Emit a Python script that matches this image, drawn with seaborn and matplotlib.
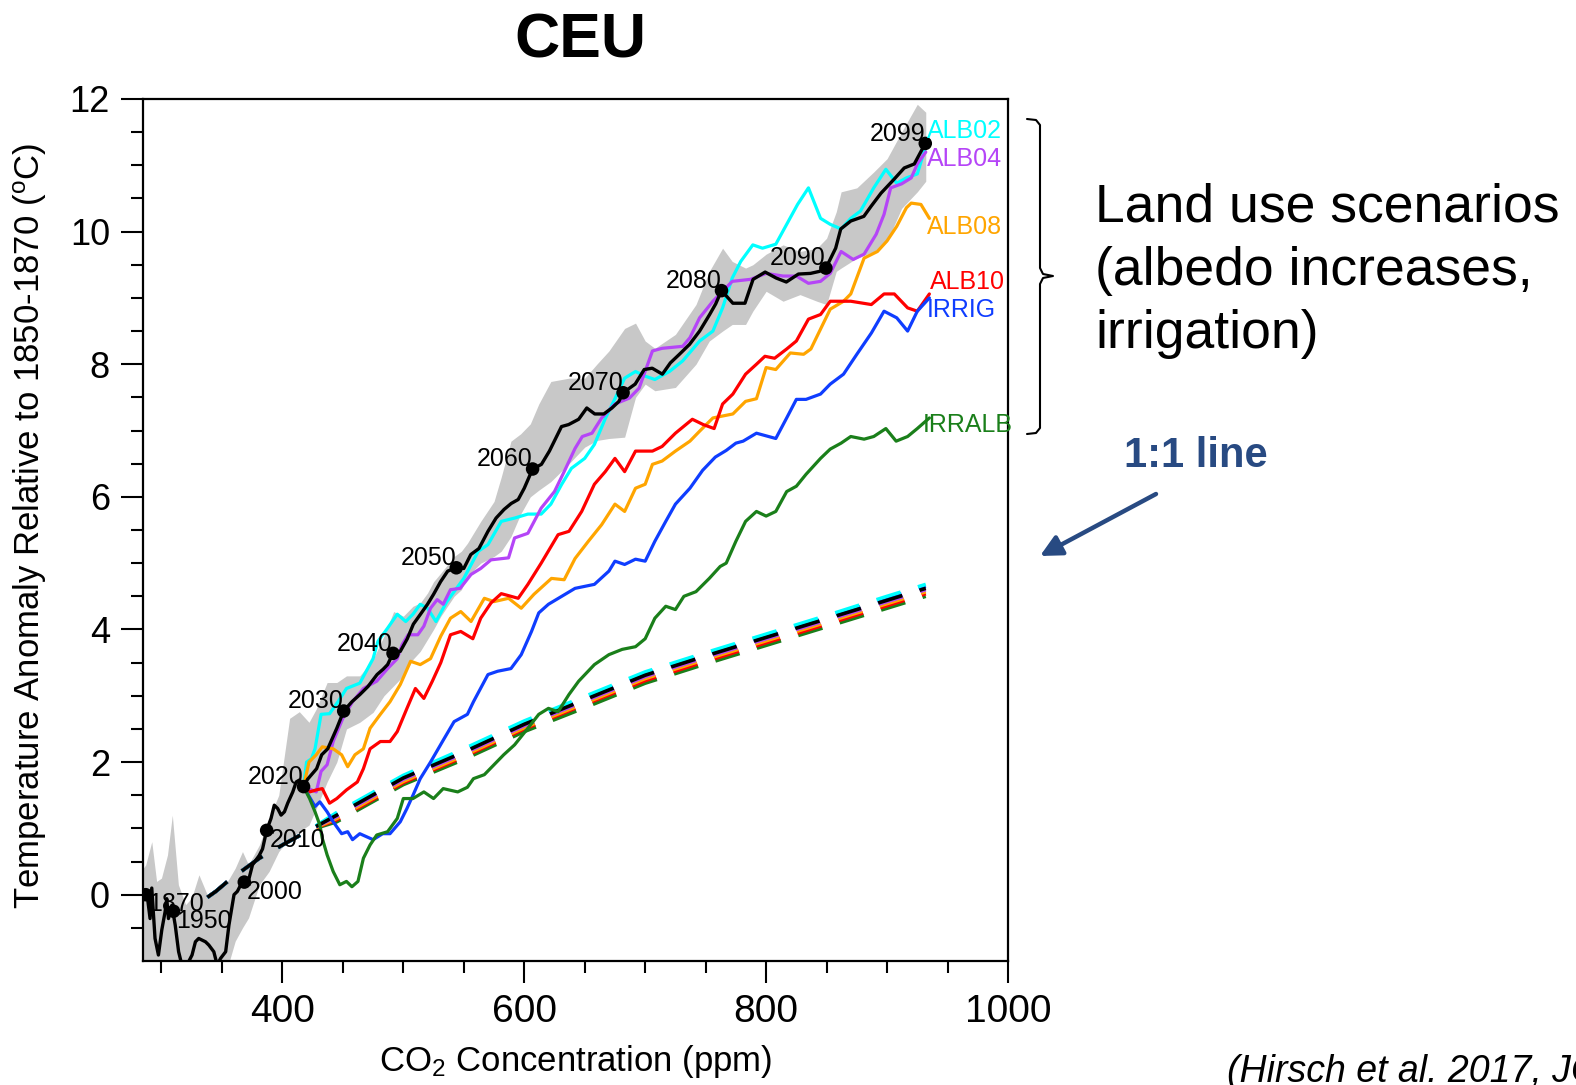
import matplotlib
matplotlib.use("Agg")
import matplotlib.pyplot as plt
import seaborn as sns
from matplotlib.lines import Line2D

# historical run (black) and its spread
hist_co2 = [285.5, 287.8, 290.6, 292, 294.7, 297.5, 300.3, 303, 304.4, 305.8, 308.6, 311.4,
            314.2, 316.9, 321.1, 325.3, 328.1, 330.8, 336.4, 339.2, 343.3, 346.1, 348.9,
            353.1, 355.8, 360, 362.8, 365.6, 368.3, 371.1, 373.9, 375.3, 380.8, 383.6,
            387, 390.6, 393.3, 396.1, 398.9, 401.7, 404.4, 408.6, 411.4, 414.2, 417.5]
hist_temp = [-0.06, 0.05, -0.36, 0.10, -0.66, -0.91, -0.53, -0.26, -0.06, -0.36, -0.16, -0.46,
             -0.86, -1.06, -1.06, -0.91, -0.71, -0.66, -0.71, -0.76, -0.86, -1.06, -0.96,
             -0.86, -0.46, 0.0, 0.05, 0.15, 0.19, 0.15, 0.35, 0.45, 0.59, 0.69,
             0.97, 1.15, 1.35, 1.30, 1.20, 1.25, 1.38, 1.55, 1.70, 1.73, 1.63]

ctl_co2 = [417.5, 420.8, 428.3, 432.5, 437.5, 445, 450.7, 457.5, 464.2, 470.8, 478.3, 483.3,
           487, 491.5, 497.5, 503.3, 508.3, 514.2, 520, 525, 530.8, 536.7, 543.8, 550,
           555.8, 562.5, 570, 576.7, 583.3, 589.2, 595, 600, 606.9, 614.2, 620.8, 630.8,
           636.7, 645, 651.7, 658.3, 665.8, 672.5, 678.3, 681.7, 691.7, 699.2, 705.8, 714.2,
           720.8, 728.3, 736.7, 745, 753.3, 758.3, 763.1, 772.5, 782.5, 789.2, 799.2, 808.3,
           816.7, 826.7, 836.7, 844, 849.4, 857.5, 861.7, 870, 880.8, 886.7, 895, 905.8,
           914.2, 922.5, 931.6]
ctl_temp = [1.63, 1.74, 1.90, 2.11, 2.20, 2.51, 2.77, 2.91, 3.02, 3.14, 3.32, 3.40,
            3.47, 3.64, 3.67, 3.86, 4.08, 4.23, 4.38, 4.53, 4.72, 4.88, 4.93, 4.92,
            5.13, 5.22, 5.48, 5.68, 5.81, 5.90, 5.96, 6.13, 6.42, 6.49, 6.69, 7.06,
            7.09, 7.17, 7.34, 7.25, 7.25, 7.34, 7.44, 7.57, 7.70, 7.92, 7.94, 7.85,
            8.02, 8.15, 8.30, 8.50, 8.75, 8.91, 9.11, 8.92, 8.92, 9.28, 9.39, 9.30,
            9.24, 9.36, 9.37, 9.40, 9.45, 9.75, 10.04, 10.16, 10.23, 10.38, 10.58, 10.79,
            10.96, 11.02, 11.33]

band_co2 = [285, 287, 292, 296, 300, 305, 309, 314, 320, 325, 331, 339, 347, 353, 361, 367,
            372, 381, 389, 397, 406, 414, 422, 428, 437, 445, 453, 464, 475, 484, 492, 500,
            508, 514, 520, 525, 531, 542, 548, 553, 564, 575, 581, 589, 597, 605, 612, 622,
            637, 650, 660, 670, 683, 692, 700, 708, 725, 742, 753, 764, 772, 783, 789, 800,
            814, 828, 842, 850, 858, 862, 875, 889, 900, 912, 925, 932]
band_hi = [0.4, 0.45, 0.8, 0.2, 0.25, 0.6, 1.2, 0.15, -0.15, -0.05, 0.3, -0.05, 0.1, 0.15, 0.4, 0.65,
           0.45, 0.75, 1.15, 1.5, 2.66, 2.76, 2.6, 2.8, 3.2, 3.2, 3.3, 3.3, 3.55, 3.9, 4.27, 4.2,
           4.35, 4.4, 4.55, 4.72, 4.85, 5.1, 5.18, 5.3, 5.63, 5.93, 6.3, 6.84, 6.95, 7.1, 7.4, 7.74,
           7.79, 7.79, 8.0, 8.2, 8.54, 8.62, 8.35, 8.24, 8.45, 8.9, 9.4, 9.75, 9.55, 9.45, 9.5, 9.66,
           9.8, 9.7, 9.75, 9.9, 10.3, 10.6, 10.66, 10.9, 11.1, 11.5, 11.92, 11.8]
band_lo = [-1.3, -1.3, -1.3, -1.3, -1.3, -1.3, -1.3, -1.3, -1.3, -1.3, -1.3, -1.3, -1.3, -1.2, -0.7, -0.5,
           -0.35, 0.15, 0.35, 0.65, 0.85, 0.95, 1.05, 1.3, 1.7, 2.0, 2.5, 2.6, 2.75, 3.0, 3.15, 3.3,
           3.55, 3.67, 3.85, 4.0, 4.2, 4.5, 4.6, 4.8, 5.0, 5.1, 5.18, 5.4, 5.74, 6.0, 6.1, 6.23,
           6.5, 6.75, 6.85, 6.88, 6.9, 7.5, 7.7, 7.6, 7.65, 8.0, 8.35, 8.5, 8.6, 8.6, 8.8, 9.1,
           8.95, 9.05, 8.95, 8.9, 9.4, 9.45, 9.6, 9.7, 9.85, 10.35, 10.6, 10.76]

# scenarios
alb02_co2 = [417.5, 420, 424, 427, 432, 439, 446, 453, 464, 475, 479, 487, 495, 502, 508, 514, 520,
             527, 536, 550, 562, 570, 581, 592, 603, 614, 622, 631, 639, 650, 658, 667, 675, 683,
             692, 700, 708, 720, 731, 745, 756, 764, 772, 779, 789, 797, 808, 817, 826, 835, 845,
             853, 862, 870, 878, 889, 899, 908, 916, 925, 929, 932]
alb02 = [1.63, 2.0, 2.05, 2.2, 2.72, 2.73, 2.91, 3.11, 3.19, 3.56, 3.82, 4.02, 4.23, 4.12, 4.23, 4.38,
         4.32, 4.12, 4.42, 4.77, 5.18, 5.28, 5.63, 5.68, 5.74, 5.74, 5.89, 6.19, 6.43, 6.58, 6.79, 7.18,
         7.48, 7.79, 7.89, 7.82, 7.77, 7.89, 8.05, 8.35, 8.5, 8.85, 9.3, 9.55, 9.8, 9.75, 9.81, 10.11,
         10.41, 10.66, 10.2, 10.11, 10.04, 10.2, 10.31, 10.66, 10.94, 10.73, 10.81, 10.87, 11.11, 11.28]

alb04_co2 = [417.5, 428, 432, 437, 442, 450, 458, 467, 478, 487, 495, 499, 504, 512, 517, 522.5, 528,
             533, 539, 547, 556, 564, 572.5, 587, 592, 603, 614, 625, 633, 642, 648, 656, 664, 675,
             687, 695, 706, 714, 731, 737, 745, 756, 764, 772, 787, 800, 814, 825, 835, 845, 853, 862,
             872, 881, 891, 897.5, 903, 912, 920, 925, 932]
alb04 = [1.63, 1.55, 1.86, 1.96, 2.31, 2.66, 2.91, 3.11, 3.22, 3.41, 3.56, 3.77, 3.92, 3.92, 4.05,
         4.32, 4.45, 4.38, 4.6, 4.62, 4.83, 4.92, 5.05, 5.08, 5.38, 5.45, 5.83, 6.08, 6.38, 6.73, 6.91,
         6.96, 7.19, 7.4, 7.49, 7.64, 8.2, 8.24, 8.27, 8.4, 8.7, 8.95, 9.1, 9.25, 9.28, 9.37, 9.33,
         9.33, 9.22, 9.25, 9.37, 9.7, 9.58, 9.66, 9.96, 10.26, 10.66, 10.72, 10.81, 11.02, 11.2]

alb08_co2 = [417.5, 422, 428, 433, 442, 449, 454, 460, 467, 472.5, 481, 489, 497.5, 506, 514, 522.5,
             531, 539, 547.5, 556, 567, 575, 587, 597.5, 608, 622.5, 633, 642, 653, 664, 675, 683,
             692, 700, 706, 714, 725, 737, 745, 756, 772.5, 783, 792, 800, 808, 820, 831, 837, 853,
             864, 870, 881, 892, 900, 908, 916, 920, 928, 935]
alb08 = [1.63, 2.0, 2.11, 2.23, 2.2, 2.11, 1.93, 2.11, 2.2, 2.51, 2.72, 2.91, 3.17, 3.52, 3.47, 3.56,
         3.9, 4.17, 4.27, 4.12, 4.47, 4.42, 4.47, 4.32, 4.53, 4.77, 4.75, 5.07, 5.33, 5.58, 5.89, 5.78,
         6.13, 6.19, 6.49, 6.54, 6.69, 6.84, 6.99, 7.19, 7.25, 7.44, 7.48, 7.95, 7.92, 8.17, 8.15,
         8.23, 8.83, 8.95, 9.06, 9.6, 9.7, 9.86, 10.08, 10.36, 10.43, 10.41, 10.2]

alb10_co2 = [417.5, 422.5, 428, 433, 439, 445, 453, 462, 467, 472.5, 481, 489, 495, 503, 510, 517,
             524, 531, 539, 547.5, 557.5, 564, 572.5, 581, 595, 603, 614, 628, 637, 647.5, 658, 667,
             675, 683, 692, 706, 714, 725, 739, 748, 757, 764, 772.5, 783, 792, 799, 807, 817, 825,
             835, 845, 853, 870, 887, 897.5, 906, 917, 925, 935]
alb10 = [1.63, 1.55, 1.58, 1.6, 1.38, 1.45, 1.58, 1.7, 1.9, 2.2, 2.31, 2.31, 2.46, 2.81, 3.11, 2.96,
         3.22, 3.5, 3.92, 3.97, 3.86, 4.17, 4.4, 4.54, 4.47, 4.68, 5.0, 5.43, 5.48, 5.78, 6.19, 6.38,
         6.58, 6.38, 6.69, 6.69, 6.76, 6.96, 7.17, 7.09, 7.03, 7.4, 7.55, 7.85, 8.0, 8.12, 8.09,
         8.23, 8.35, 8.68, 8.75, 8.95, 8.95, 8.9, 9.06, 9.06, 8.85, 8.8, 9.06]

irrig_co2 = [417.5, 420, 427, 431, 437, 442, 449, 454, 458, 464, 475, 483, 489, 497.5, 503, 508, 514,
             522.5, 533, 542, 553, 558, 570, 578, 589, 597.5, 606, 612, 620, 631, 642, 658, 670, 675,
             683, 692, 700, 708, 717, 725, 737, 747.5, 758, 767, 775, 781, 792, 808, 817, 825, 833,
             845, 853, 864, 875, 887, 897.5, 908, 917, 925, 935]
irrig = [1.63, 1.55, 1.33, 1.4, 1.25, 1.1, 0.92, 0.95, 0.83, 0.92, 0.83, 0.92, 0.92, 1.1, 1.3, 1.5,
         1.75, 2.0, 2.33, 2.61, 2.72, 2.91, 3.32, 3.37, 3.41, 3.62, 3.97, 4.25, 4.38, 4.5, 4.62, 4.68,
         4.88, 5.03, 4.98, 5.06, 5.03, 5.33, 5.63, 5.89, 6.13, 6.4, 6.6, 6.7, 6.81, 6.84, 6.96, 6.88,
         7.19, 7.47, 7.47, 7.55, 7.7, 7.85, 8.15, 8.47, 8.8, 8.7, 8.5, 8.8, 9.0]

irralb_co2 = [417.5, 422.5, 427, 431, 433, 437, 442, 447.5, 453, 457.5, 462.5, 467, 472.5, 478, 487,
              495, 500, 508, 517, 525, 533, 545, 553, 558, 567, 575, 583, 592, 603, 612, 620, 628,
              637, 645, 658, 670, 681, 692, 700, 708, 717, 725, 732, 742, 753, 762, 767, 775, 783,
              792, 800, 808, 817, 825, 833, 845, 853, 862, 870, 881, 889, 899, 907.5, 917, 925, 935]
irralb = [1.63, 1.45, 1.25, 1.05, 0.85, 0.6, 0.35, 0.15, 0.2, 0.12, 0.2, 0.55, 0.75, 0.9, 0.95,
          1.15, 1.45, 1.45, 1.55, 1.45, 1.6, 1.55, 1.62, 1.75, 1.81, 1.96, 2.11, 2.26, 2.51, 2.72,
          2.81, 2.76, 3.02, 3.22, 3.47, 3.62, 3.7, 3.74, 3.86, 4.17, 4.35, 4.3, 4.5, 4.57, 4.77,
          4.95, 5.0, 5.33, 5.63, 5.78, 5.71, 5.78, 6.08, 6.16, 6.34, 6.58, 6.72, 6.81, 6.91, 6.87,
          6.91, 7.03, 6.84, 6.91, 7.03, 7.19]

# "1:1" dashed lines
dash_co2 = [338, 345, 356, 381, 403, 422, 445, 500, 550, 600, 650, 700, 750, 800, 850, 900, 932]
dash_ctl = [-0.04, 0.05, 0.22, 0.55, 0.78, 0.97, 1.20, 1.76, 2.15, 2.57, 2.94, 3.31, 3.60, 3.88, 4.16, 4.44, 4.62]
dash_alb02 = [-0.04, 0.05, 0.22, 0.55, 0.78, 0.97, 1.24, 1.80, 2.20, 2.62, 2.99, 3.36, 3.65, 3.93, 4.21, 4.50, 4.68]
dash_alb04 = [-0.04, 0.05, 0.22, 0.55, 0.78, 0.97, 1.18, 1.74, 2.13, 2.55, 2.92, 3.29, 3.58, 3.86, 4.14, 4.42, 4.60]
dash_alb08 = [-0.04, 0.05, 0.22, 0.55, 0.78, 0.97, 1.15, 1.71, 2.10, 2.52, 2.89, 3.26, 3.55, 3.83, 4.11, 4.39, 4.57]
dash_alb10 = [-0.04, 0.05, 0.22, 0.55, 0.78, 0.97, 1.13, 1.69, 2.08, 2.50, 2.87, 3.23, 3.52, 3.80, 4.08, 4.36, 4.54]
dash_irrig = [-0.04, 0.05, 0.22, 0.55, 0.78, 0.97, 1.22, 1.78, 2.17, 2.59, 2.96, 3.33, 3.62, 3.90, 4.18, 4.47, 4.65]
dash_irralb = [-0.04, 0.05, 0.22, 0.55, 0.78, 0.97, 1.10, 1.66, 2.04, 2.46, 2.82, 3.19, 3.48, 3.76, 4.04, 4.32, 4.50]

year_labels = ["1870", "1950", "2000", "2010", "2020", "2030", "2040", "2050", "2060", "2070", "2080", "2090", "2099"]
year_co2 = [287, 310, 368.5, 387, 417.5, 450.7, 491.5, 543.8, 606.9, 681.7, 763.1, 849.4, 931.6]
year_temp = [0.0, -0.25, 0.19, 0.97, 1.63, 2.77, 3.64, 4.93, 6.42, 7.57, 9.11, 9.45, 11.33]

scen_names = ["ALB02", "ALB04", "ALB08", "ALB10", "IRRIG", "IRRALB"]
scen_colors = ["#00ffff", "#b545f7", "#ffa500", "#ff0000", "#0f3dff", "#1a7f1a"]
label_x = [932.8, 932.8, 932.8, 935.3, 932.8, 929.5]
label_y = [11.52, 11.10, 10.07, 9.24, 8.82, 7.09]

NAVY = "#284a82"


def main():
    sns.set_theme(style="ticks")
    plt.rcParams["font.family"] = ["Liberation Sans", "DejaVu Sans"]
    plt.rcParams["mathtext.fontset"] = "custom"
    plt.rcParams["mathtext.rm"] = "Liberation Sans"
    plt.rcParams["mathtext.it"] = "Liberation Sans:italic"
    for key in ["text.color", "axes.labelcolor", "xtick.color", "ytick.color", "axes.edgecolor"]:
        plt.rcParams[key] = "black"

    W, H = 1576, 1085
    fig = plt.figure(figsize=(W / 100, H / 100), dpi=100)
    ax = fig.add_axes([143.3 / W, 1 - 961 / H, (1008 - 143.3) / W, (961 - 99) / H])

    # spread
    ax.fill_between(band_co2, band_lo, band_hi, color="#c8c8c8", linewidth=0, zorder=1)

    # dashed 1:1 lines
    dashed = [dash_irralb, dash_alb10, dash_alb08, dash_alb04, dash_irrig, dash_alb02]
    dcols = [scen_colors[5], scen_colors[3], scen_colors[2], scen_colors[1], scen_colors[4], scen_colors[0]]
    for vals, c in zip(dashed, dcols):
        sns.lineplot(x=dash_co2, y=vals, color=c, linewidth=2.6, linestyle=(0, (7, 5)),
                     estimator=None, sort=False, ax=ax, zorder=3)
    sns.lineplot(x=dash_co2, y=dash_ctl, color="black", linewidth=2.6, linestyle=(0, (7, 5)),
                 estimator=None, sort=False, ax=ax, zorder=3)

    # scenario lines
    series = [(alb02_co2, alb02), (alb04_co2, alb04), (alb08_co2, alb08),
              (alb10_co2, alb10), (irrig_co2, irrig), (irralb_co2, irralb)]
    for (xs, ys), c in zip(series, scen_colors):
        sns.lineplot(x=xs, y=ys, color=c, linewidth=2.3, estimator=None, sort=False, ax=ax, zorder=4)

    sns.lineplot(x=hist_co2, y=hist_temp, color="black", linewidth=2.4, estimator=None, sort=False, ax=ax, zorder=5)
    sns.lineplot(x=ctl_co2, y=ctl_temp, color="black", linewidth=2.4, estimator=None, sort=False, ax=ax, zorder=5)
    sns.scatterplot(x=year_co2, y=year_temp, color="black", s=95, edgecolor="none", ax=ax, zorder=6)

    for lab, xv, yv in zip(year_labels, year_co2, year_temp):
        if int(lab) < 2020:
            ax.annotate(lab, (xv, yv), xytext=(2, -7), textcoords="offset points",
                        ha="left", va="center", fontsize=18, zorder=7)
        else:
            ax.annotate(lab, (xv, yv), xytext=(0, 7), textcoords="offset points",
                        ha="right", va="center", fontsize=18, zorder=7)

    for name, c, xv, yv in zip(scen_names, scen_colors, label_x, label_y):
        ax.text(xv, yv, name, color=c, fontsize=18, ha="left", va="center", zorder=7, clip_on=False)

    ax.set_xlim(285, 1000)
    ax.set_ylim(-1, 12)
    ax.set_xticks([400, 600, 800, 1000])
    ax.set_xticks(list(range(300, 1000, 50)), minor=True)
    ax.set_yticks([0, 2, 4, 6, 8, 10, 12])
    ax.set_yticks([v / 2 for v in range(-1, 24)], minor=True)
    ax.tick_params(which="major", length=16, width=1.5, direction="out", color="black")
    ax.tick_params(which="minor", length=8.5, width=1.5, direction="out", color="black")
    ax.tick_params(axis="x", labelsize=28, pad=8)
    ax.tick_params(axis="y", labelsize=26, pad=8)
    ax.set_xlabel("")
    ax.set_ylabel("")
    for sp in ax.spines.values():
        sp.set_linewidth(1.6)
        sp.set_color("black")

    fig.text(30 / W, 1 - 526 / H, r"Temperature Anomaly Relative to 1850-1870 ($^{\rm o}$C)",
             rotation=90, ha="center", va="center", fontsize=25)
    fig.text(576 / W, 1 - 1062 / H, r"CO$_2$ Concentration (ppm)", ha="center", va="center", fontsize=25)
    fig.text(580 / W, 1 - 58 / H, "CEU", ha="center", va="baseline", fontsize=45, fontweight="bold")

    # bracket and annotations
    bx = [1027, 1036, 1040, 1040, 1043, 1053, 1043, 1040, 1040, 1036, 1027]
    by = [119, 120, 125, 268, 274, 276, 278, 284, 428, 433, 434]
    fig.add_artist(Line2D([v / W for v in bx], [1 - v / H for v in by], color="black",
                          linewidth=1.5, transform=fig.transFigure))
    for i, line in enumerate(["Land use scenarios", "(albedo increases,", "irrigation)"]):
        fig.text(1095 / W, 1 - (221 + 63.5 * i) / H, line, ha="left", va="baseline", fontsize=38.5)
    fig.text(1124 / W, 1 - 467 / H, "1:1 line", ha="left", va="baseline", fontsize=30,
             fontweight="bold", color=NAVY)
    ax.annotate("", xy=(1040, H - 556), xytext=(1156, H - 494), xycoords="figure pixels",
                textcoords="figure pixels", annotation_clip=False,
                arrowprops=dict(arrowstyle="-|>", color=NAVY, lw=3.2, mutation_scale=32,
                                shrinkA=0, shrinkB=0))
    fig.text(1227 / W, 1 - 1082 / H, "(Hirsch et al. 2017, JCLI)", ha="left", va="baseline",
             fontsize=27, style="italic")

    fig.savefig("out.png", dpi=100)


if __name__ == "__main__":
    main()
